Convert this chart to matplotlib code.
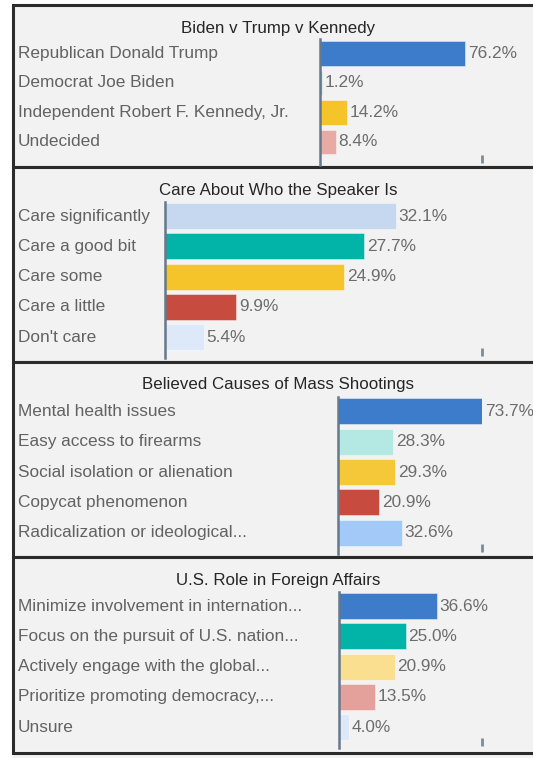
import matplotlib.pyplot as plt
from matplotlib.patches import Rectangle
from matplotlib.transforms import blended_transform_factory

plt.rcParams['font.family'] = ['Liberation Sans', 'DejaVu Sans']

# chart data
titles = ["Biden v Trump v Kennedy",
          "Care About Who the Speaker Is",
          "Believed Causes of Mass Shootings",
          "U.S. Role in Foreign Affairs"]

vote_labels = ["Republican Donald Trump", "Democrat Joe Biden",
               "Independent Robert F. Kennedy, Jr.", "Undecided"]
vote_values = [76.2, 1.2, 14.2, 8.4]
vote_colors = ["#3d7bcb", "#7fd0ca", "#f5c42b", "#e8aaa5"]

speaker_labels = ["Care significantly", "Care a good bit", "Care some",
                  "Care a little", "Don't care"]
speaker_values = [32.1, 27.7, 24.9, 9.9, 5.4]
speaker_colors = ["#c6d8f0", "#02b3a7", "#f5c42b", "#c74c3f", "#dde9f9"]

shooting_labels = ["Mental health issues", "Easy access to firearms",
                   "Social isolation or alienation", "Copycat phenomenon",
                   "Radicalization or ideological..."]
shooting_values = [73.7, 28.3, 29.3, 20.9, 32.6]
shooting_colors = ["#3d7bcb", "#b3e8e3", "#f5c83a", "#c74c3f", "#a3c9f9"]

foreign_labels = ["Minimize involvement in internation...",
                  "Focus on the pursuit of U.S. nation...",
                  "Actively engage with the global...",
                  "Prioritize promoting democracy,...", "Unsure"]
foreign_values = [36.6, 25.0, 20.9, 13.5, 4.0]
foreign_colors = ["#3d7bcb", "#02b3a7", "#f9df8f", "#e4a09b", "#dde9f9"]

panels = [
    (titles[0], vote_labels, vote_values, vote_colors),
    (titles[1], speaker_labels, speaker_values, speaker_colors),
    (titles[2], shooting_labels, shooting_values, shooting_colors),
    (titles[3], foreign_labels, foreign_values, foreign_colors),
]

# layout in pixels: panel top, panel bottom, axis x, axis top, axis bottom,
# x limit at the tick, y limits (rows), title y
layout = [
    (5, 167, 319.5, 39, 165, 85.0, (3.78, -0.49), 28),
    (167, 362, 165, 202, 358, 44.1, (4.69, -0.47), 190),
    (362, 557, 338, 397, 554, 73.6, (4.70, -0.47), 385),
    (557, 753, 338.5, 592, 748, 53.4, (4.69, -0.47), 580),
]

W, H = 533, 758
fig = plt.figure(figsize=(W / 100, H / 100), dpi=100)
fig.patch.set_facecolor("white")

label_color = "#626262"
value_color = "#6c6c6c"
tick_x = 482

# panel boxes
for top, bottom, *_ in layout:
    fig.patches.append(Rectangle((13 / W, 1 - bottom / H), (560 - 13) / W,
                                 (bottom - top) / H, transform=fig.transFigure,
                                 facecolor="#f2f2f2", edgecolor="#2b2b2b",
                                 linewidth=2.2, zorder=-5))
fig.patches.append(Rectangle((13 / W, 0), (560 - 13) / W, (H - 753) / H,
                             transform=fig.transFigure, facecolor="#f2f2f2",
                             edgecolor="none", zorder=-6))

for (title, labels, values, colors), lay in zip(panels, layout):
    top, bottom, ax_x, ax_top, ax_bot, xmax, ylim, title_y = lay
    ax = fig.add_axes([ax_x / W, 1 - ax_bot / H, (tick_x - ax_x) / W,
                       (ax_bot - ax_top) / H])
    ax.patch.set_visible(False)
    rows = list(range(len(values)))
    bar_h = 0.84 if len(values) == 4 else 0.86
    ax.barh(rows, values, height=bar_h, color=colors, edgecolor="#ffffff80",
            linewidth=0.6, zorder=2)
    ax.set_xlim(0, xmax)
    ax.set_ylim(*ylim)

    for s in ["top", "right", "bottom"]:
        ax.spines[s].set_visible(False)
    ax.spines["left"].set_color("#66788a")
    ax.spines["left"].set_linewidth(1.8)
    ax.spines["left"].set_zorder(3)
    ax.set_xticks([])
    ax.set_yticks([])

    # small tick mark at the right end of the axis
    ax.plot([xmax, xmax], [ylim[0] - 0.07, ylim[0] - 0.33], color="#7d8b99",
            linewidth=2, solid_capstyle="butt", clip_on=False)

    trans = blended_transform_factory(fig.transFigure, ax.transData)
    for i, (lab, val) in enumerate(zip(labels, values)):
        ax.text(18 / W, i, lab, transform=trans, ha="left", va="center",
                fontsize=12.4, color=label_color)
        ax.annotate(f"{val:.1f}%", (val, i), xytext=(2, 0),
                    textcoords="offset points", ha="left", va="center",
                    fontsize=12.4, color=value_color, annotation_clip=False)

    fig.text(278 / W, 1 - title_y / H, title, ha="center", va="center",
             fontsize=12.2, color="#262626")

fig.savefig("out.png", dpi=100)
